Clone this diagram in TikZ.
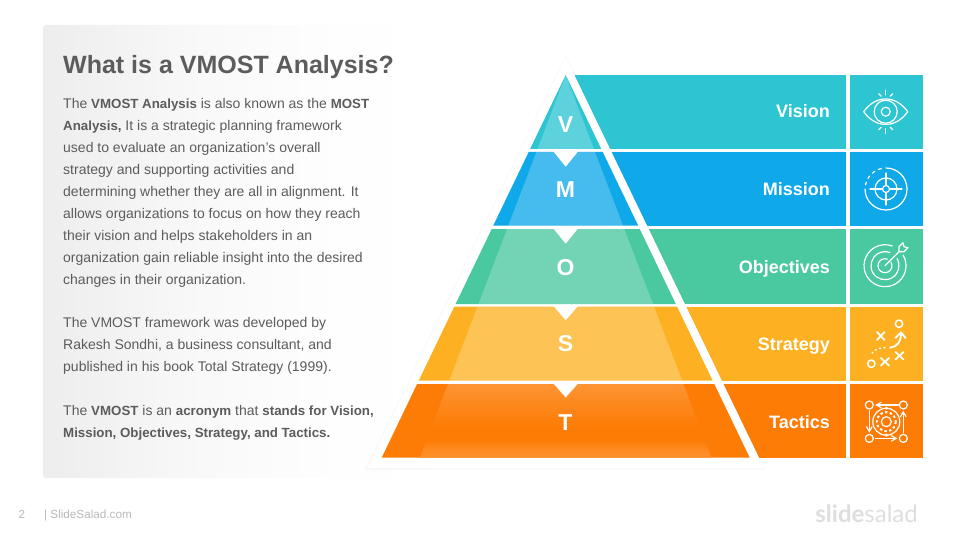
\documentclass[tikz,border=0pt]{standalone}
\usepackage{fontspec}
\setmainfont{Liberation Sans}
\newfontfamily\logofont{Lato}
\usepackage{tikz}
\usetikzlibrary{arrows,positioning}
\definecolor{visioncol}{HTML}{2DC5D2}
\definecolor{missioncol}{HTML}{0FA8E9}
\definecolor{objectcol}{HTML}{4AC8A0}
\definecolor{strategycol}{HTML}{FDB122}
\definecolor{tacticcol}{HTML}{FD7C06}
\definecolor{textcol}{HTML}{5C5C5C}
\pgfdeclareverticalshading{tacticshade}{100bp}{color(0bp)=(tacticcol!84!white); color(25bp)=(tacticcol!84!white); color(31bp)=(tacticcol!90!white); color(37bp)=(tacticcol); color(46bp)=(tacticcol); color(75bp)=(tacticcol!82!white); color(100bp)=(tacticcol!82!white)}
\pgfdeclarehorizontalshading{panelshade}{100bp}{color(0bp)=(black!7); color(25bp)=(black!7); color(45bp)=(black!2.5); color(62bp)=(black!0.5); color(75bp)=(white); color(100bp)=(white)}
\newcommand\strongword[1]{{\fontsize{13.3}{22}\selectfont\bfseries #1}}
\tikzstyle{bandbox} = [draw=none]
\tikzstyle{lightband} = [fill=white, opacity=.23]
\tikzstyle{bandlabel} = [text=white, anchor=base east, inner sep=0pt, font=\fontsize{18}{20}\selectfont\bfseries]
\tikzstyle{bandletter} = [text=white, anchor=base, inner sep=0pt, font=\fontsize{23}{26}\selectfont\bfseries]
\tikzstyle{bodytext} = [text=textcol, anchor=north west, inner sep=0pt, align=left, font=\fontsize{14}{21.95}\selectfont]
\tikzstyle{notch} = [fill=white]
\tikzstyle{iconline} = [draw=white, line width=1.2pt, line cap=round, line join=round]
\tikzstyle{iconcross} = [iconline, line width=1.8pt]
\tikzstyle{iconarrow} = [iconline, ->, >=angle 60]

\begin{document}
\begin{tikzpicture}[x=1pt, y=-1pt]
        \useasboundingbox (0,0) rectangle (960,540);
        % text panel
        \path[shading=panelshade, rounded corners=3pt] (43,25) rectangle (432,478);
        \path[] node[text=textcol, anchor=base west, inner sep=0pt, font=\fontsize{25}{30}\selectfont\bfseries] (title) at (63,73.3) {What is a VMOST Analysis?};
        \path[] node[bodytext] (intro) at (63,98.5) {The \strongword{VMOST Analysis} is also known as the \strongword{MOST}\\
          \strongword{Analysis,} It is a strategic planning framework\\
          used to evaluate an organization’s overall\\
          strategy and supporting activities and\\
          determining whether they are all in alignment. It\\
          allows organizations to focus on how they reach\\
          their vision and helps stakeholders in an\\
          organization gain reliable insight into the desired\\
          changes in their organization.};
        \path[] node[bodytext] (origin) at (63,317.5) {The VMOST framework was developed by\\
          Rakesh Sondhi, a business consultant, and\\
          published in his book Total Strategy (1999).};
        \path[] node[bodytext] (acronym) at (63,405.5) {The \strongword{VMOST} is an \strongword{acronym} that \strongword{stands for Vision,}\\
          \strongword{Mission, Objectives, Strategy, and Tactics.}};
        % bands on the right
        \path[bandbox, fill=visioncol] (560,75) rectangle (846,148.7);
        \path[bandbox, fill=missioncol] (560,151.7) rectangle (846,225.7);
        \path[bandbox, fill=objectcol] (560,229) rectangle (846,304);
        \path[bandbox, fill=strategycol] (560,306.7) rectangle (846,380.5);
        \path[bandbox, fill=tacticcol] (560,384) rectangle (846,457.7);
        \path[bandbox, fill=visioncol] (850,75) rectangle (923,148.7);
        \path[bandbox, fill=missioncol] (850,151.7) rectangle (923,225.7);
        \path[bandbox, fill=objectcol] (850,229) rectangle (923,304);
        \path[bandbox, fill=strategycol] (850,306.7) rectangle (923,380.5);
        \path[bandbox, fill=tacticcol] (850,384) rectangle (923,457.7);
        % white frame of the pyramid
        \path[fill=black, opacity=.025] (565.7,55) -- (365,470) -- (766,470) -- cycle;
        \path[fill=white] (565.7,57) -- (367.5,468) -- (764,468) -- cycle;
        % pyramid
        \path[fill=visioncol] (565.7,75) -- (530.1,149) -- (601.3,149) -- cycle;
        \path[fill=missioncol] (528.7,152) -- (493.2,225.7) -- (638.2,225.7) -- (602.7,152) -- cycle;
        \path[fill=objectcol] (491.7,229) -- (455.6,304) -- (675.8,304) -- (639.7,229) -- cycle;
        \path[fill=strategycol] (454.3,306.7) -- (418.8,380.5) -- (712.6,380.5) -- (677.1,306.7) -- cycle;
        \path[fill=tacticcol] (417.1,384) -- (381.7,457.7) -- (749.7,457.7) -- (714.3,384) -- cycle;
        % lighter inner pyramid
        \path[lightband] (565.7,75) -- (537.5,149) -- (593.9,149) -- cycle;
        \path[lightband] (536.4,152) -- (508.3,225.7) -- (623.1,225.7) -- (595,152) -- cycle;
        \path[lightband] (507,229) -- (478.5,304) -- (652.9,304) -- (624.4,229) -- cycle;
        \path[lightband] (477.4,306.7) -- (449.3,380.5) -- (682.1,380.5) -- (654,306.7) -- cycle;
        \path[shading=tacticshade] (448,384) -- (419.9,457.7) -- (711.5,457.7) -- (683.4,384) -- cycle;
        % notches
        \path[notch] (553,151) -- (565.7,166.7) -- (578.4,151) -- cycle;
        \path[notch] (553,228) -- (565.7,243.7) -- (578.4,228) -- cycle;
        \path[notch] (553,305.5) -- (565.7,320.2) -- (578.4,305.5) -- cycle;
        \path[notch] (553,383) -- (565.7,397.5) -- (578.4,383) -- cycle;
        % letters
        \path[] node[bandletter] (letterv) at (565.5,133) {V};
        \path[] node[bandletter] (letterm) at (565.5,197.7) {M};
        \path[] node[bandletter] (lettero) at (565.5,275.3) {O};
        \path[] node[bandletter] (letters) at (565.5,351.7) {S};
        \path[] node[bandletter] (lettert) at (565.5,430) {T};
        % labels
        \path[] node[bandlabel] (vision) at (830,118) {Vision};
        \path[] node[bandlabel] (mission) at (830,195.5) {Mission};
        \path[] node[bandlabel] (objectives) at (830,273) {Objectives};
        \path[] node[bandlabel] (strategy) at (830,350) {Strategy};
        \path[] node[bandlabel] (tactics) at (830,428) {Tactics};
        % eye icon
        \begin{scope}[shift={(885.7,111.7)}]
          \draw[iconline] (-22,0) .. controls (-10,-17) and (10,-17) .. (22,0) .. controls (10,17) and (-10,17) .. (-22,0) -- cycle;
          \draw[iconline] (0,0) circle (11.5);
          \draw[iconline] (0,0) circle (4.5);
          \draw[iconline] (0,-21.5) -- (0,-17);
          \draw[iconline] (-7,-18) -- (-4.5,-15.5);
          \draw[iconline] (7,-18) -- (4.5,-15.5);
          \draw[iconline] (0,17) -- (0,21.5);
          \draw[iconline] (-7,18) -- (-4.5,15.5);
          \draw[iconline] (7,18) -- (4.5,15.5);
        \end{scope}
        % target icon
        \begin{scope}[shift={(886,189)}]
          \draw[iconline] (0,-21) arc[start angle=270, end angle=540, radius=21];
          \draw[iconline, dash pattern=on 3pt off 4pt] (-20.5,-4) arc[start angle=191, end angle=262, radius=21];
          \draw[iconline] (0,0) circle (11);
          \draw[iconline] (0,0) circle (3.5);
          \draw[iconline] (0,-16) -- (0,-3.5);
          \draw[iconline] (0,3.5) -- (0,16);
          \draw[iconline] (-16,0) -- (-3.5,0);
          \draw[iconline] (3.5,0) -- (16,0);
        \end{scope}
        % goal icon
        \begin{scope}[shift={(885,265.7)}]
          \draw[iconline] (18.2,-10.5) arc[start angle=-30, end angle=290, radius=21];
          \draw[iconline] (12.1,-7) arc[start angle=-30, end angle=290, radius=14];
          \draw[iconline] (6,-3.5) arc[start angle=-30, end angle=290, radius=7];
          \draw[iconline] (0,0) -- (14,-14);
          \draw[iconline] (14,-14) -- (14,-19) -- (18,-23) -- (19,-19) -- (23,-18) -- (19,-14) -- cycle;
        \end{scope}
        % plan icon
        \draw[iconline, line width=1.5pt] (899,323.7) circle (3.7);
        \draw[iconline, line width=1.5pt] (871.3,363.7) circle (3.7);
        \draw[iconcross] (890,347.7) .. controls (897,347) and (901,342) .. (901,333);
        \draw[iconcross] (895.5,338) -- (901,332.3) -- (905.5,338);
        \draw[iconline, line width=1.5pt, dash pattern=on 1pt off 3.5pt] (885,347.7) .. controls (877,348) and (872,351) .. (871,356);
        \draw[iconcross] (877,332) -- (884.5,340);
        \draw[iconcross] (884.5,332) -- (877,340);
        \draw[iconcross] (881,358) -- (889,365.5);
        \draw[iconcross] (889,358) -- (881,365.5);
        \draw[iconcross] (895.5,352) -- (903.5,359.5);
        \draw[iconcross] (903.5,352) -- (895.5,359.5);
        % process icon
        \begin{scope}[shift={(886.3,421.7)}]
          \draw[iconline] (-17,-16.7) circle (4);
          \draw[iconline] (17,-16.7) circle (4);
          \draw[iconline] (-17,16.7) circle (4);
          \draw[iconline] (17,16.7) circle (4);
          \draw[iconarrow] (12,-16.7) -- (-11,-16.7);
          \draw[iconarrow] (-17,-11) -- (-17,11);
          \draw[iconarrow] (-11,16.7) -- (11,16.7);
          \draw[iconarrow] (17,11) -- (17,-11);
          \draw[iconline] (0,0) circle (13.5);
          \path[fill=white] (0,-13.5) circle (1.7);
          \path[fill=white] (0,13.5) circle (1.7);
          \draw[iconline, line cap=butt, line width=2pt, dash pattern=on 2.4pt off 2.4pt] (0,0) circle (9.5);
          \draw[iconline] (0,0) circle (5);
        \end{scope}
        % footer
        \path[] node[text=black!28, inner sep=0pt, font=\fontsize{11.7}{14}\selectfont] (pagenum) at (22,514) {2};
        \path[] node[text=black!28, anchor=west, inner sep=0pt, font=\fontsize{11.7}{14}\selectfont] (site) at (44,515) {| SlideSalad.com};
        \path[] node[text=black!13, anchor=base east, inner sep=0pt, font=\logofont\fontsize{24}{26}\selectfont] (logo) at (918,522.5) {\textbf{slide}salad};
      \end{tikzpicture}
\end{document}
